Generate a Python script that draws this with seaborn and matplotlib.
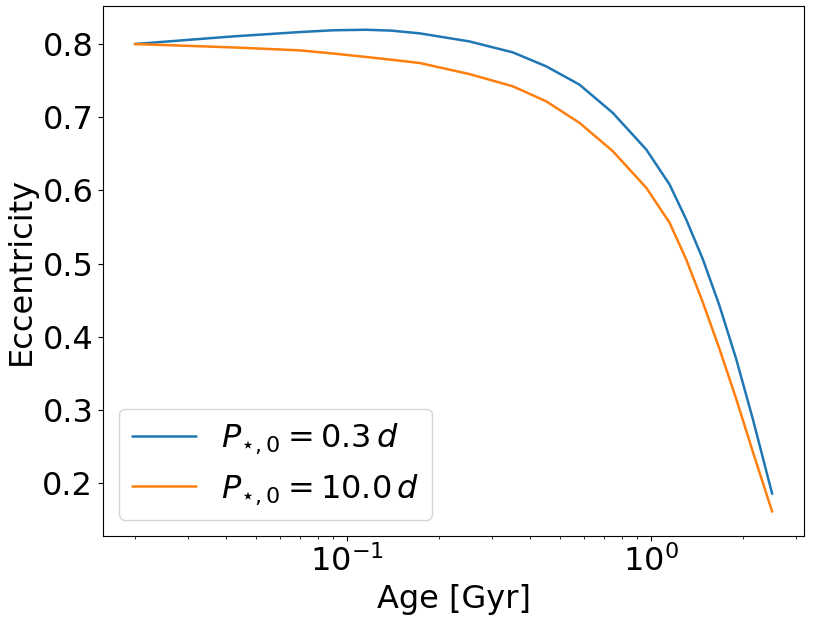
import seaborn as sns
import numpy as np
import pandas as pd
import matplotlib
matplotlib.use("Agg")
import matplotlib.pyplot as plt

# values
age = [0.02, 0.03, 0.042, 0.07, 0.09, 0.1155, 0.14, 0.173, 0.252, 0.3505, 0.4514, 0.5808,
       0.7475, 0.963, 1.149, 1.303, 1.479, 1.678, 1.904, 2.159, 2.5]
ecc_fast = [0.800, 0.8057, 0.8104, 0.8164, 0.8188, 0.8195, 0.8183, 0.8146, 0.8036, 0.7886,
            0.7695, 0.7445, 0.7059, 0.6559, 0.6081, 0.5604, 0.5058, 0.4422, 0.3695, 0.2877,
            0.1854]
ecc_slow = [0.800, 0.7975, 0.7954, 0.7913, 0.7870, 0.7823, 0.7785, 0.7741, 0.7590, 0.7422,
            0.7217, 0.6923, 0.6536, 0.6036, 0.5559, 0.5058, 0.4468, 0.3831, 0.3150, 0.2430,
            0.1610]
labels = [r"$P_{\star,0} = 0.3\,d$", r"$P_{\star,0} = 10.0\,d$"]

df = pd.concat([
    pd.DataFrame({"age": age, "ecc": ecc_fast, "model": labels[0]}),
    pd.DataFrame({"age": age, "ecc": ecc_slow, "model": labels[1]}),
])

sns.set_style("ticks")
plt.rcParams["font.family"] = ["DejaVu Sans"]
plt.rcParams["mathtext.fontset"] = "dejavusans"
plt.rcParams["text.color"] = "black"
plt.rcParams["axes.labelcolor"] = "black"
plt.rcParams["xtick.color"] = "black"
plt.rcParams["ytick.color"] = "black"
plt.rcParams["axes.edgecolor"] = "black"

fig = plt.figure(figsize=(8.3, 6.23), dpi=100)
ax = fig.add_axes([0.1241, 0.1401, 0.8446, 0.8508])
sns.lineplot(data=df, x="age", y="ecc", hue="model", palette=["#1f77b4", "#ff7f0e"],
             linewidth=1.8, ax=ax)
ax.set_xscale("log")
ax.margins(0.05)
ax.set_xlabel("Age [Gyr]", fontsize=23)
ax.set_ylabel("Eccentricity", fontsize=23)
ax.tick_params(labelsize=23)
ax.legend(loc="lower left", fontsize=23, title=None)

fig.savefig("out.png", dpi=100)
